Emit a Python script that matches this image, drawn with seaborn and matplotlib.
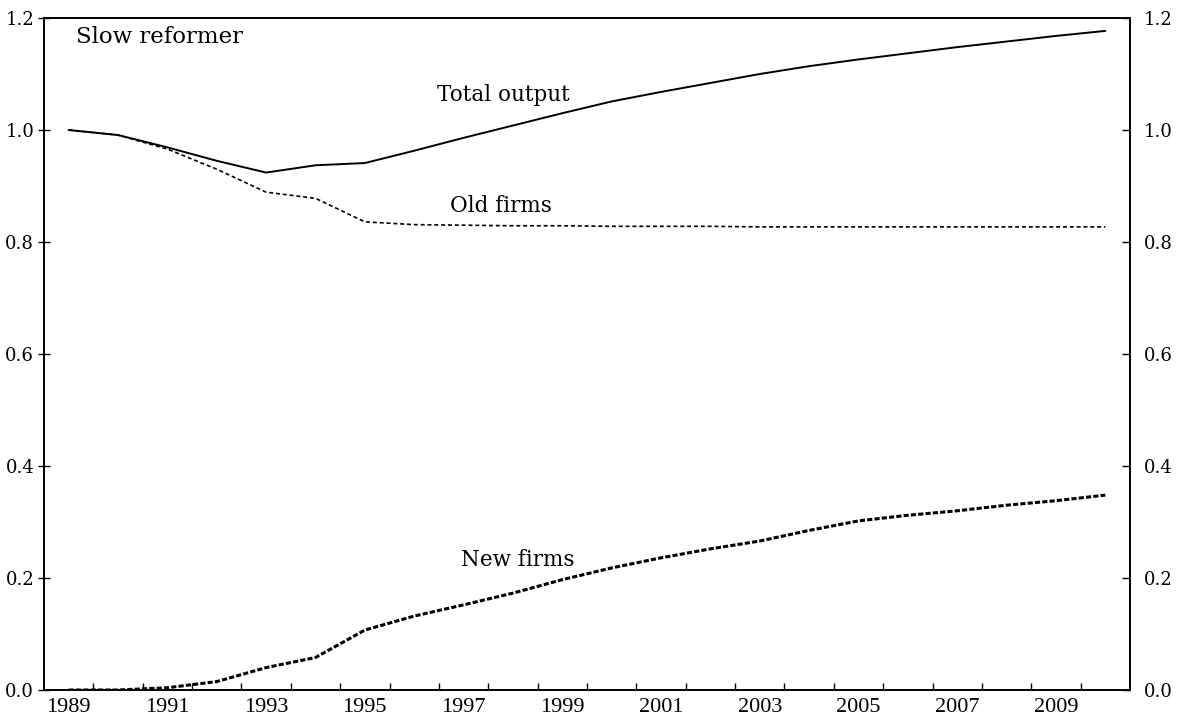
"""Slow reformer: output of old and new firms, 1989-2010."""
import matplotlib
matplotlib.use("Agg")
import matplotlib.pyplot as plt
import numpy as np
import pandas as pd
import seaborn as sns

years = list(range(1989, 2011))
total_output = [1.000, 0.991, 0.969, 0.945, 0.924, 0.937, 0.941, 0.963, 0.986, 1.008, 1.030,
                1.051, 1.068, 1.084, 1.100, 1.114, 1.126, 1.137, 1.148, 1.158, 1.168, 1.177]
old_firms = [1.000, 0.991, 0.966, 0.930, 0.889, 0.878, 0.836, 0.831, 0.830, 0.829, 0.829,
             0.828, 0.828, 0.828, 0.827, 0.827, 0.827, 0.827, 0.827, 0.827, 0.827, 0.827]
new_firms = [0.000, 0.000, 0.004, 0.015, 0.040, 0.058, 0.107, 0.132, 0.152, 0.173, 0.197,
             0.218, 0.236, 0.252, 0.266, 0.285, 0.302, 0.312, 0.320, 0.330, 0.338, 0.348]

year_labels = list(range(1989, 2010, 2))
y_ticks = [0.0, 0.2, 0.4, 0.6, 0.8, 1.0, 1.2]

df = pd.DataFrame({"Year": years, "Total": total_output, "Old": old_firms, "New": new_firms})

sns.set_theme(style="ticks")
plt.rcParams["font.family"] = ["DejaVu Serif"]
plt.rcParams.update({"text.color": "black", "xtick.color": "black", "ytick.color": "black",
                     "axes.labelcolor": "black"})

fig = plt.figure(figsize=(11.85, 7.26), dpi=100)
ax = fig.add_axes([0.0371, 0.0496, 0.9165, 0.9256])

sns.lineplot(data=df, x="Year", y="Total", color="black", linewidth=1.4, ax=ax)
sns.lineplot(data=df, x="Year", y="Old", color="black", linewidth=1.2, ax=ax)
sns.lineplot(data=df, x="Year", y="New", color="black", linewidth=2.2, ax=ax)
ax.lines[1].set_dashes((2.4, 1.7))
ax.lines[2].set_dashes((1.7, 0.7))

ax.set_xlim(1988.5, 2010.5)
ax.set_ylim(0, 1.2)
ax.set_xlabel("")
ax.set_ylabel("")

for side in ["left", "right", "top", "bottom"]:
    ax.spines[side].set_visible(True)
    ax.spines[side].set_linewidth(1.4)
    ax.spines[side].set_color("black")

ax.set_xticks(year_labels)
ax.set_xticklabels([str(y) for y in year_labels], family="Liberation Serif", fontsize=16)
ax.set_xticks(np.arange(1989.5, 2010, 1.0), minor=True)
ax.tick_params(axis="x", which="major", length=0, pad=6)
ax.tick_params(axis="x", which="minor", direction="in", length=5, width=1.0, color="black")

ax.set_yticks(y_ticks)
ax.set_yticklabels([f"{v:.1f}" for v in y_ticks], fontsize=13)
ax.tick_params(axis="y", direction="inout", length=8, width=1.0, pad=3, color="black")

ax2 = ax.twinx()
ax2.set_ylim(0, 1.2)
ax2.set_yticks(y_ticks)
ax2.set_yticklabels([f"{v:.1f}" for v in y_ticks], fontsize=13)
ax2.tick_params(axis="y", direction="in", length=6, width=1.0, pad=10, color="black")
for side in ["left", "right", "top", "bottom"]:
    ax2.spines[side].set_visible(False)

ax.text(1989.15, 1.166, "Slow reformer", fontsize=16.5, ha="left", va="center")
ax.text(1997.8, 1.062, "Total output", fontsize=15.5, ha="center", va="center")
ax.text(1997.75, 0.864, "Old firms", fontsize=15.5, ha="center", va="center")
ax.text(1998.1, 0.232, "New firms", fontsize=15.5, ha="center", va="center")

fig.savefig("out.png", dpi=100)
